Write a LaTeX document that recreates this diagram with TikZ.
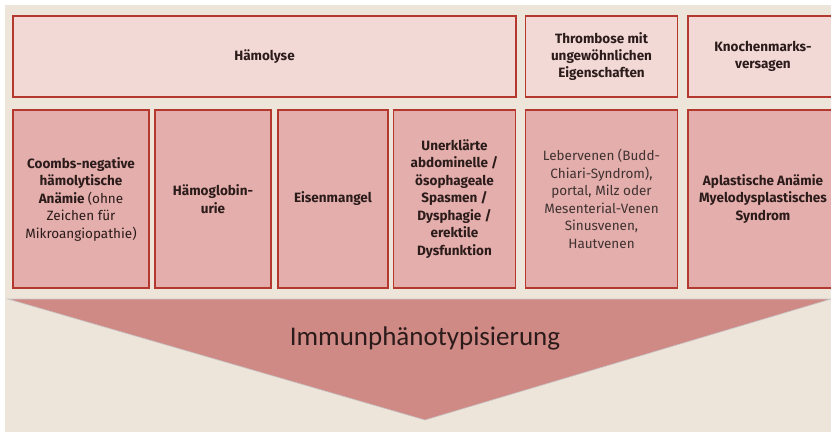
\documentclass[tikz,border=0pt]{standalone}
\usepackage{fontspec}
\setmainfont{Fira Sans}
\newfontfamily\arrowfont{Carlito}
\usetikzlibrary{positioning}

\definecolor{bgbeige}{HTML}{EDE4DA}
\definecolor{boxline}{HTML}{B5382F}
\definecolor{toppink}{HTML}{F2D9D5}
\definecolor{lowpink}{HTML}{E3AEAB}
\definecolor{arrowpink}{HTML}{D08A86}
\definecolor{boxtext}{HTML}{2B1B1A}
\definecolor{softtext}{HTML}{3F3231}

\begin{document}
\begin{tikzpicture}[
    x=1pt, y=-1pt,
    font=\fontsize{13.5}{17}\selectfont,
    topbox/.style={rectangle, draw=boxline, line width=1.6pt, fill=toppink, align=center, text=boxtext, font=\fontsize{13.5}{17}\selectfont\bfseries, inner sep=0pt},
    lowbox/.style={rectangle, draw=boxline, line width=1.6pt, fill=lowpink, align=center, text=boxtext, font=\fontsize{13.5}{17.5}\selectfont\bfseries, inner sep=0pt, minimum height=178pt}
]

\useasboundingbox (0,0) rectangle (831,432);
\clip (0,0) rectangle (831,432);
\fill[bgbeige] (5,5) rectangle (831,432);

% Kopfzeile
\node[topbox, minimum width=503pt, minimum height=81pt] (haemolyse) at (264.5,56.5) {Hämolyse};

\node[topbox, minimum width=152pt, minimum height=81pt] (thrombose) at (601.5,56.5) {Thrombose mit\\ungewöhnlichen\\Eigenschaften};

\node[topbox, minimum width=150pt, minimum height=81pt] (knochenmark) at (763,56.5) {Knochenmarks-\\versagen};

% Befunde
\node[lowbox, minimum width=136pt] (coombs) at (81,199) {Coombs-negative\\hämolytische\\Anämie {\mdseries (ohne}\\{\mdseries Zeichen für}\\{\mdseries Mikroangiopathie)}};

\node[lowbox, minimum width=116pt] (hburie) at (213,199) {Hämoglobin-\\urie};

\node[lowbox, minimum width=110pt] (eisen) at (333,199) {Eisenmangel};

\node[lowbox, minimum width=122pt] (spasmen) at (454.5,199) {Unerklärte\\abdominelle /\\ösophageale\\Spasmen /\\Dysphagie /\\erektile\\Dysfunktion};

\node[lowbox, minimum width=152pt, font=\fontsize{13.5}{17.5}\selectfont, text=softtext] (venen) at (601.5,199) {Lebervenen (Budd-\\Chiari-Syndrom),\\portal, Milz oder\\Mesenterial-Venen\\Sinusvenen,\\Hautvenen};

\node[lowbox, minimum width=150pt] (aplasie) at (763,199) {Aplastische Anämie\\Myelodysplastisches\\Syndrom};

% Pfeil
\fill[arrowpink, draw=gray!45, line width=0.6pt] (8,299) -- (831,299) -- (425,420) -- cycle;
\node[font=\arrowfont\fontsize{27}{30}\selectfont, text=boxtext] (immun) at (425,338) {Immunphänotypisierung};

\end{tikzpicture}
\end{document}
